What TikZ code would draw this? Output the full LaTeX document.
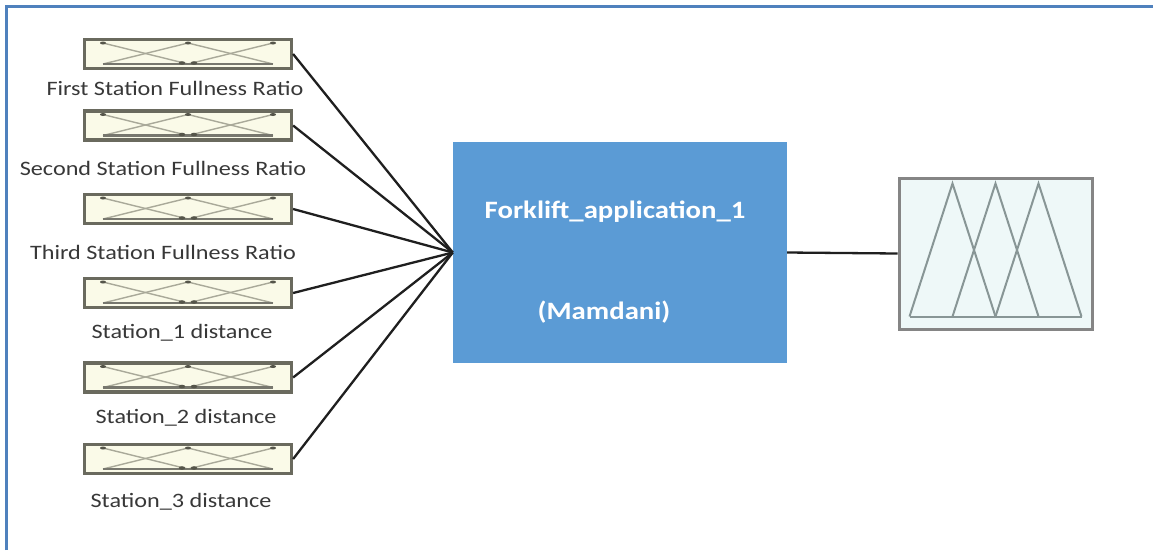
\documentclass[tikz,border=0pt]{standalone}
\usepackage{fontspec}
\setmainfont{Carlito}
\usetikzlibrary{calc}
\definecolor{frameblue}{HTML}{4F81BD}
\definecolor{fisblue}{HTML}{5B9BD5}
\definecolor{mfcream}{HTML}{FAFAE8}
\definecolor{mfedge}{HTML}{6A6A5E}
\definecolor{mfline}{HTML}{A9A999}
\definecolor{mfdark}{HTML}{55554A}
\definecolor{outfill}{HTML}{EEF8F8}
\definecolor{outedge}{HTML}{858585}
\definecolor{trigrey}{HTML}{889696}
\definecolor{labelgrey}{HTML}{383838}
\begin{document}
\begin{tikzpicture}[x=1pt,y=-1pt,
  inbox/.style={draw=mfedge, line width=3.2pt, fill=mfcream,
    minimum width=207pt, minimum height=29pt, inner sep=0pt},
  inlabel/.style={font=\fontsize{20.5}{24}\selectfont, text=labelgrey,
    xscale=1.18, inner sep=0pt},
  fistext/.style={font=\bfseries\fontsize{25}{30}\selectfont, text=white,
    xscale=1.15, inner sep=0pt},
  mf/.style={draw=mfline, line width=1.4pt},
  wire/.style={draw=black!88, line width=2.3pt}]

% canvas and frame
\fill[white] (0,0) rectangle (1153,550);
\useasboundingbox (0,0) rectangle (1153,550);
\draw[frameblue, line width=3pt] (6,550) -- (6,6) -- (1153,6);

% input membership blocks
\foreach \n/\y in {1/54,2/125.5,3/209,4/293,5/377.5,6/459}{
  \node[inbox] (in\n) at (188,\y) {};
  \begin{scope}[shift={(in\n.center)}]
    \draw[mf] (-85,-11) -- (0,10);
    \draw[mf] (-85,10) -- (0,-11) -- (85,10);
    \draw[mf] (0,10) -- (85,-11);
    \draw[mfdark!80, line width=2.2pt] (-85,10) -- (85,10);
    \foreach \x in {-85,0,85}
      \fill[mfdark] (\x,-11) ellipse (3 and 1.5);
    \fill[mfdark] (-6,9) ellipse (3.2 and 1.8);
    \fill[mfdark] (6,9) ellipse (3.2 and 1.8);
  \end{scope}
}

% input labels
\node[inlabel] (lab1) at (175,88)  {First Station Fullness Ratio};
\node[inlabel] (lab2) at (163,168) {Second Station Fullness Ratio};
\node[inlabel] (lab3) at (163,252) {Third Station Fullness Ratio};
\node[inlabel] (lab4) at (182,333) {Station\_1 distance};
\node[inlabel] (lab5) at (186,418) {Station\_2 distance};
\node[inlabel] (lab6) at (181,502) {Station\_3 distance};

% inference system block
\node[fill=fisblue, minimum width=334pt, minimum height=221pt, inner sep=0pt]
  (fis) at (620,252.5) {};
\node[fistext] (fisname) at (615,212) {Forklift\_application\_1};
\node[fistext] (fistype) at (604,312) {(Mamdani)};

% output membership block
\node[draw=outedge, line width=3pt, fill=outfill, minimum width=193pt,
  minimum height=151pt, inner sep=0pt] (out) at (995.5,253.5) {};
\begin{scope}[shift={(out.center)}, draw=trigrey, line width=2pt]
  \draw (-86,63) -- (-43,-70) -- (0,63);
  \draw (-43,63) -- (0,-70) -- (43,63);
  \draw (0,63) -- (43,-70) -- (86,63);
  \draw (-86,63) -- (86,63);
\end{scope}

% connections
\foreach \n in {1,...,6}
  \draw[wire] (in\n.east) -- (fis.west);
\draw[wire] (fis.east) -- (out.west);
\end{tikzpicture}
\end{document}
